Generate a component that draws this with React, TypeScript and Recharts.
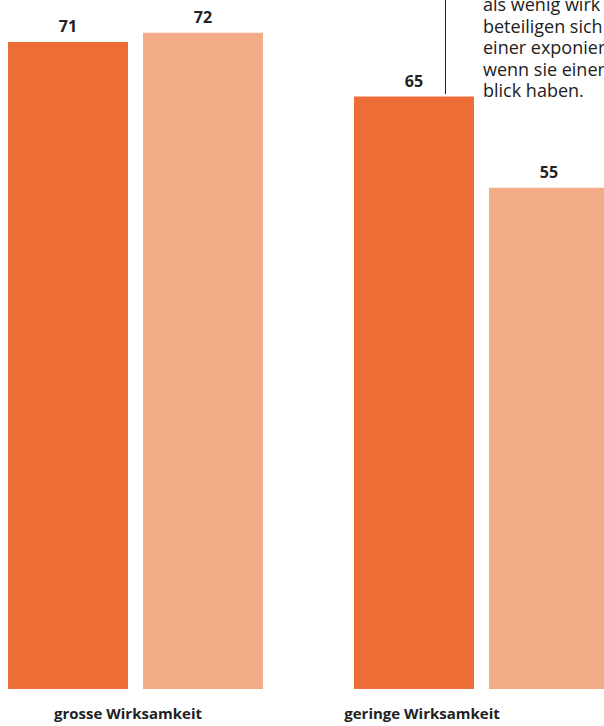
import React from 'react';
import { BarChart, Bar, XAxis, YAxis, LabelList } from 'recharts';

const categories = ['grosse Wirksamkeit', 'geringe Wirksamkeit'];
const seriesA = [71, 65];
const seriesB = [72, 55];
// the note is cut at the right edge in the original, keep the visible part
const noteLines = ['als wenig wirk', 'beteiligen sich', 'einer exponier', 'wenn sie einen', 'blick haben.'];

const data = categories.map((name, i) => ({ name, a: seriesA[i], b: seriesB[i] }));

const FONT = '"Open Sans", "Noto Sans", sans-serif';
const DARK = '#222222';

// tick labels sit a bit left of the group centre in the original
const tickShift = [-7, -59];

const CategoryTick = ({ x, y, payload, index }: any) => (
  <text
    x={x + (tickShift[index] ?? 0)}
    y={y}
    dy={30}
    textAnchor="middle"
    fill={DARK}
    fontSize={15}
    fontWeight={700}
    fontFamily={FONT}
  >
    {payload.value}
  </text>
);

const App: React.FC = () => {
  return (
    <div
      style={{
        position: 'absolute',
        left: 0,
        top: 0,
        width: 604,
        height: 726,
        overflow: 'hidden',
        background: '#ffffff',
        fontFamily: FONT,
      }}
    >
      <div style={{ position: 'absolute', left: -38, top: 0 }}>
        <BarChart
          width={692}
          height={726}
          data={data}
          margin={{ top: 0, right: 0, bottom: 0, left: 0 }}
          barSize={120}
          barGap={15}
          barCategoryGap={45.5}
        >
          <XAxis
            dataKey="name"
            axisLine={false}
            tickLine={false}
            tickSize={0}
            tickMargin={0}
            height={37}
            interval={0}
            tick={<CategoryTick />}
          />
          <YAxis hide domain={[0, 75.6]} />
          <Bar dataKey="a" fill="#EC6D36" isAnimationActive={false}>
            <LabelList
              dataKey="a"
              position="top"
              offset={10}
              fill={DARK}
              fontSize={16}
              fontWeight={700}
              fontFamily={FONT}
            />
          </Bar>
          <Bar dataKey="b" fill="#F3AC88" isAnimationActive={false}>
            <LabelList
              dataKey="b"
              position="top"
              offset={10}
              fill={DARK}
              fontSize={16}
              fontWeight={700}
              fontFamily={FONT}
            />
          </Bar>
        </BarChart>
      </div>
      {/* annotation pointer line and note text */}
      <div style={{ position: 'absolute', left: 445, top: 0, width: 1, height: 94, background: DARK }} />
      <div
        style={{
          position: 'absolute',
          left: 483,
          top: -6,
          fontSize: 18,
          lineHeight: '21.6px',
          color: DARK,
          whiteSpace: 'nowrap',
        }}
      >
        {noteLines.map((l) => (
          <div key={l}>{l}</div>
        ))}
      </div>
    </div>
  );
};

export default App;
